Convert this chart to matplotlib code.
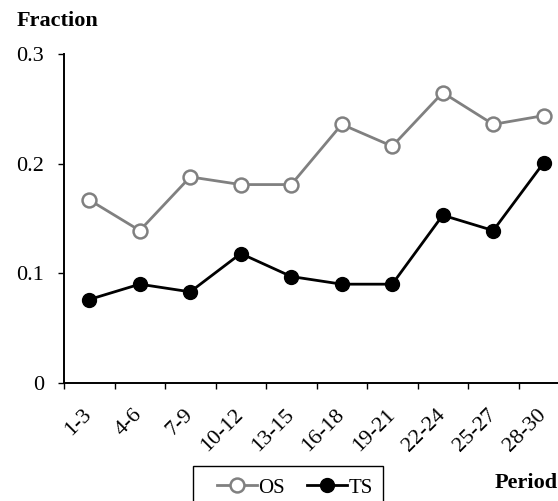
import matplotlib
matplotlib.use('Agg')
import matplotlib.pyplot as plt
from matplotlib.lines import Line2D
from matplotlib.patches import Rectangle

periods = ['1-3', '4-6', '7-9', '10-12', '13-15', '16-18', '19-21', '22-24', '25-27', '28-30']
os_vals = [0.167, 0.139, 0.188, 0.181, 0.181, 0.236, 0.216, 0.265, 0.236, 0.244]
ts_vals = [0.076, 0.090, 0.083, 0.118, 0.097, 0.090, 0.090, 0.153, 0.139, 0.201]
yticks = [0, 0.1, 0.2, 0.3]
ytick_labels = ['0', '0.1', '0.2', '0.3']

plt.rcParams['font.family'] = ['Liberation Serif', 'DejaVu Serif']

W, H = 558, 501
fig = plt.figure(figsize=(W / 100, H / 100), dpi=100)
ax = fig.add_axes([64 / W, 118.3 / H, 505 / W, 328.4 / H])

gray = '#808080'
x = list(range(len(periods)))
ax.plot(x, os_vals, color=gray, lw=2.0, marker='o', ms=10, mfc='white',
        mec=gray, mew=1.8, label='OS', clip_on=False, zorder=3)
ax.plot(x, ts_vals, color='black', lw=2.0, marker='o', ms=10, mfc='black',
        mec='black', label='TS', clip_on=False, zorder=4)

ax.set_xlim(-0.5, len(periods) - 0.5)
ax.set_ylim(0, 0.3)

for s in ['top', 'right']:
    ax.spines[s].set_visible(False)
for s in ['left', 'bottom']:
    ax.spines[s].set_linewidth(1.4)
    ax.spines[s].set_color('black')

ax.set_yticks(yticks)
ax.set_yticklabels(ytick_labels)
ax.tick_params(axis='y', direction='out', length=4.5, width=1.0, pad=10, labelsize=16)

ax.set_xticks(x)
ax.set_xticklabels(periods)
ax.set_xticks([i - 0.5 for i in range(len(periods) + 1)], minor=True)
ax.tick_params(axis='x', which='major', length=0, pad=21, labelsize=16)
ax.tick_params(axis='x', which='minor', direction='out', length=4.5, width=1.0)
plt.setp(ax.get_xticklabels(), rotation=45, ha='right', va='center',
         rotation_mode='anchor')

# legend (frame drawn separately, clipped by the figure bottom)
handles = [
    Line2D([], [], color=gray, lw=2.0, marker='o', ms=10, mfc='white', mec=gray, mew=1.8),
    Line2D([], [], color='black', lw=2.0, marker='o', ms=10, mfc='black', mec='black'),
]
leg = fig.legend(handles, ['OS', 'TS'], loc='center left',
                 bbox_to_anchor=(216.7 / W, 1 - 488 / H), ncol=2, fontsize=15,
                 handlelength=1.92, handletextpad=0.05, columnspacing=1.1,
                 borderpad=0, frameon=False, numpoints=1, borderaxespad=0)
fig.patches.append(Rectangle((193.3 / W, -0.05), (383.3 - 193.3) / W,
                             (1 - 466 / H) + 0.05, transform=fig.transFigure,
                             fill=False, edgecolor='black', lw=1.0, figure=fig))

fig.text(17 / W, 1 - 21 / H, 'Fraction', fontweight='bold', fontsize=16,
         ha='left', va='center')
fig.text(495 / W, 1 - 483 / H, 'Period', fontweight='bold', fontsize=16,
         ha='left', va='center')

fig.savefig('out.png', dpi=100)
